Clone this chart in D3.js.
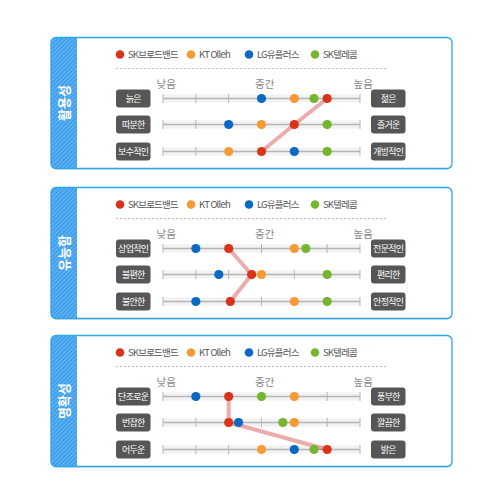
<!DOCTYPE html>
<html>
<head>
<meta charset="utf-8">
<script src="https://cdn.jsdelivr.net/npm/d3@7"></script>
<style>
  html, body { margin: 0; padding: 0; background: #fff; }
  svg { font-family: "Noto Sans CJK KR", "Noto Sans", sans-serif; }
  .legend-text { font-size: 9.5px; fill: #555; letter-spacing: -0.8px; }
  .axis-text { font-size: 10.5px; fill: #888; }
  .tag-text { font-size: 9px; fill: #fff; letter-spacing: -0.7px; }
  .group-title { font-size: 13px; fill: #fff; font-weight: bold; }
</style>
</head>
<body>
<svg id="chart"></svg>
<script>
// 데이터
const seriesNames = ['SK브로드밴드', 'KT Olleh', 'LG유플러스', 'SK텔레콤'];
const seriesColors = ['#d8341a', '#f89a33', '#0a69c2', '#76b52e'];
const groups = ['활용성', '유능함', '명확성'];
const leftLabels = [
  ['늙은', '따분한', '보수적인'],
  ['상업적인', '불편한', '불안한'],
  ['단조로운', '번잡한', '어두운']
];
const rightLabels = [
  ['젊은', '즐거운', '개방적인'],
  ['전문적인', '편리한', '안정적인'],
  ['풍부한', '깔끔한', '밝은']
];
const axisLabels = ['낮음', '중간', '높음'];
const axisLabelValues = [1.1, 4.1, 7.1];

// 값 (1~7 척도), 그룹별로 3행씩
const skBroadband = [[6, 5, 4], [3, 3.7, 3.05], [3, 3, 6]];
const ktOlleh = [[5, 4, 3], [5, 4, 5], [5, 5, 4]];
const lgUplus = [[4, 3, 5], [2, 2.7, 2], [2, 3.3, 5]];
const skTelecom = [[5.6, 6, 6], [5.35, 6, 6], [4, 4.65, 5.6]];
const seriesValues = [skBroadband, ktOlleh, lgUplus, skTelecom];

const width = 500, height = 500;
const svg = d3.select('#chart')
  .attr('width', width)
  .attr('height', height)
  .attr('viewBox', `0 0 ${width} ${height}`);

const defs = svg.append('defs');
const pattern = defs.append('pattern')
  .attr('id', 'stripes')
  .attr('width', 3)
  .attr('height', 3)
  .attr('patternUnits', 'userSpaceOnUse')
  .attr('patternTransform', 'rotate(45)');
pattern.append('rect').attr('width', 3).attr('height', 3).attr('fill', '#3c9ceb');
pattern.append('rect').attr('width', 1.2).attr('height', 3).attr('fill', '#6ab8f3');

const x = d3.scaleLinear().domain([1, 7]).range([163, 360]);
const panelTops = [37.5, 187.5, 335.5];
const panelX = 51, panelW = 401, panelH = 131;
const rowOffsets = [61, 87, 114];
const legendX = [120, 191, 249, 315];
// 그리기 순서 (빨강은 마지막)
const drawOrder = [2, 3, 1, 0];

groups.forEach((title, gi) => {
  const top = panelTops[gi];
  const g = svg.append('g').attr('class', 'panel');

  // 패널 테두리 + 그림자
  g.append('rect')
    .attr('x', panelX).attr('y', top + 1.5)
    .attr('width', panelW).attr('height', panelH)
    .attr('rx', 5)
    .attr('fill', '#e6e6e6');
  g.append('rect')
    .attr('x', panelX).attr('y', top)
    .attr('width', panelW).attr('height', panelH)
    .attr('rx', 5)
    .attr('fill', '#fff');

  const clipId = `clip-${gi}`;
  defs.append('clipPath').attr('id', clipId)
    .append('rect')
    .attr('x', panelX).attr('y', top)
    .attr('width', panelW).attr('height', panelH)
    .attr('rx', 5);

  // 왼쪽 줄무늬 띠
  g.append('rect')
    .attr('clip-path', `url(#${clipId})`)
    .attr('x', panelX).attr('y', top)
    .attr('width', 26).attr('height', panelH)
    .attr('fill', 'url(#stripes)');

  g.append('rect')
    .attr('x', panelX).attr('y', top)
    .attr('width', panelW).attr('height', panelH)
    .attr('rx', 5)
    .attr('fill', 'none')
    .attr('stroke', '#2aa6ee')
    .attr('stroke-width', 1.3);

  g.append('text')
    .attr('class', 'group-title')
    .attr('transform', `translate(${panelX + 13}, ${top + panelH / 2}) rotate(-90)`)
    .attr('text-anchor', 'middle')
    .attr('dy', '0.35em')
    .text(title);

  // 범례
  const legend = g.selectAll('.legend')
    .data(seriesNames)
    .enter()
    .append('g')
    .attr('class', 'legend')
    .attr('transform', (d, i) => `translate(${legendX[i]}, ${top + 17})`);
  legend.append('circle')
    .attr('r', 4.3)
    .attr('fill', (d, i) => seriesColors[i]);
  legend.append('text')
    .attr('class', 'legend-text')
    .attr('x', 8)
    .attr('dy', '0.35em')
    .text(d => d);

  g.append('line')
    .attr('x1', 116).attr('x2', 386)
    .attr('y1', top + 31).attr('y2', top + 31)
    .attr('stroke', '#bbb')
    .attr('stroke-dasharray', '2,2');

  // 축 라벨
  g.selectAll('.axis-text')
    .data(axisLabels)
    .enter()
    .append('text')
    .attr('class', 'axis-text')
    .attr('x', (d, i) => x(axisLabelValues[i]))
    .attr('y', top + 47)
    .attr('text-anchor', 'middle')
    .attr('dy', '0.35em')
    .text(d => d);

  // 트랙
  const rows = g.selectAll('.row')
    .data(rowOffsets)
    .enter()
    .append('g')
    .attr('class', 'row')
    .attr('transform', d => `translate(0, ${top + d})`);

  rows.append('rect')
    .attr('x', x(1)).attr('y', -4)
    .attr('width', x(7) - x(1)).attr('height', 8)
    .attr('fill', '#f2f2f2');
  rows.append('line')
    .attr('x1', x(1)).attr('x2', x(7))
    .attr('stroke', '#b5b5b5')
    .attr('stroke-width', 1.5);
  rows.selectAll('.tick')
    .data(x.ticks(6))
    .enter()
    .append('line')
    .attr('class', 'tick')
    .attr('x1', d => x(d)).attr('x2', d => x(d))
    .attr('y1', -4.5).attr('y2', 4.5)
    .attr('stroke', '#b5b5b5')
    .attr('stroke-width', 1);

  // 태그
  [leftLabels[gi], rightLabels[gi]].forEach((labels, side) => {
    const bx = side === 0 ? 116 : 371;
    const tags = g.selectAll(`.tag-${side}`)
      .data(labels)
      .enter()
      .append('g')
      .attr('class', `tag-${side}`)
      .attr('transform', (d, i) => `translate(${bx}, ${top + rowOffsets[i]})`);
    tags.append('rect')
      .attr('y', -9).attr('width', 34.5).attr('height', 18)
      .attr('rx', 3)
      .attr('fill', '#565656');
    tags.append('text')
      .attr('class', 'tag-text')
      .attr('x', 17.25)
      .attr('text-anchor', 'middle')
      .attr('dy', '0.35em')
      .text(d => d);
  });

  // SK브로드밴드 연결선
  const linePts = skBroadband[gi].map((v, i) => [x(v), top + rowOffsets[i]]);
  g.append('path')
    .attr('d', d3.line()(linePts))
    .attr('fill', 'none')
    .attr('stroke', '#d43a3a')
    .attr('stroke-opacity', 0.42)
    .attr('stroke-width', 4);

  // 점
  drawOrder.forEach(si => {
    g.selectAll(`.dot-${si}`)
      .data(seriesValues[si][gi])
      .enter()
      .append('circle')
      .attr('class', `dot-${si}`)
      .attr('cx', d => x(d))
      .attr('cy', (d, i) => top + rowOffsets[i])
      .attr('r', 4.6)
      .attr('fill', seriesColors[si]);
  });
});
</script>
</body>
</html>
